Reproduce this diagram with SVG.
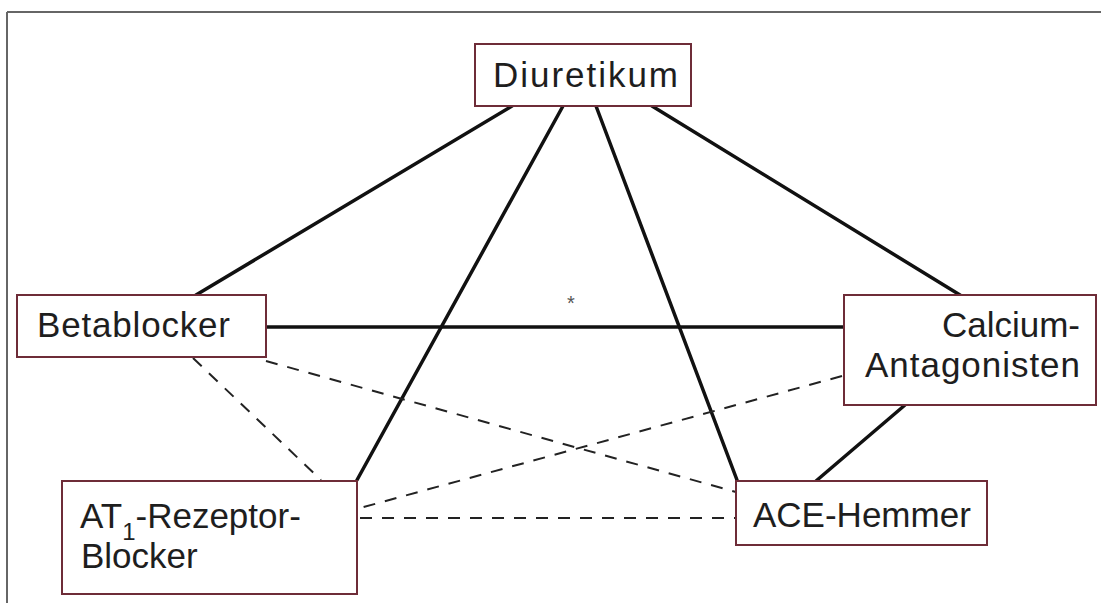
<svg xmlns="http://www.w3.org/2000/svg" width="1101" height="603" viewBox="0 0 1101 603">
<style>
.box{fill:#fff;stroke:#6e2c38;stroke-width:2}
.lbl{font-family:"Liberation Sans",Arial,sans-serif;font-size:35px;fill:#1e1e1e}
.solid{stroke:#111;stroke-width:3.5;fill:none;stroke-linecap:round}
.dash{stroke:#222;stroke-width:2;fill:none;stroke-dasharray:12 10}
</style>
<rect width="1101" height="603" fill="#fff"/>
<g id="frame" stroke="#666" stroke-width="2">
<line x1="7" y1="12" x2="1101" y2="12"/>
<line x1="7" y1="12" x2="7" y2="603"/>
</g>
<g id="connectors">
<line class="solid" x1="512" y1="106" x2="196" y2="295"/>
<line class="solid" x1="563" y1="106" x2="357" y2="480"/>
<line class="solid" x1="596" y1="106" x2="737" y2="480"/>
<line class="solid" x1="652" y1="106" x2="960" y2="295"/>
<line class="solid" x1="266" y1="327" x2="844" y2="327"/>
<line class="solid" x1="905" y1="405" x2="816" y2="481"/>
<line class="dash" x1="193" y1="358" x2="321" y2="480"/>
<line class="dash" x1="266" y1="361" x2="736" y2="492"/>
<line class="dash" x1="842" y1="376" x2="360" y2="508"/>
<line class="dash" x1="360" y1="518" x2="736" y2="518"/>
<text x="571" y="310" font-family="Liberation Sans, Arial, sans-serif" font-size="20" fill="#555" text-anchor="middle">*</text>
</g>
<g id="diuretikum">
<rect class="box" x="475" y="44" width="216" height="62"/>
<text class="lbl" x="493" y="87" textLength="185">Diuretikum</text>
</g>
<g id="betablocker">
<rect class="box" x="17" y="295" width="249" height="62"/>
<text class="lbl" x="37" y="337" textLength="193">Betablocker</text>
</g>
<g id="calcium">
<rect class="box" x="844" y="295" width="252" height="110"/>
<text class="lbl" x="1080" y="337" text-anchor="end">Calcium-</text>
<text class="lbl" x="865" y="377" textLength="215">Antagonisten</text>
</g>
<g id="at1">
<rect class="box" x="62" y="481" width="295" height="113"/>
<text class="lbl" x="80" y="528">AT<tspan font-size="24" dy="12">1</tspan><tspan dy="-12">-Rezeptor-</tspan></text>
<text class="lbl" x="81" y="568">Blocker</text>
</g>
<g id="ace">
<rect class="box" x="736" y="481" width="251" height="64"/>
<text class="lbl" x="753" y="527">ACE-Hemmer</text>
</g>
</svg>
